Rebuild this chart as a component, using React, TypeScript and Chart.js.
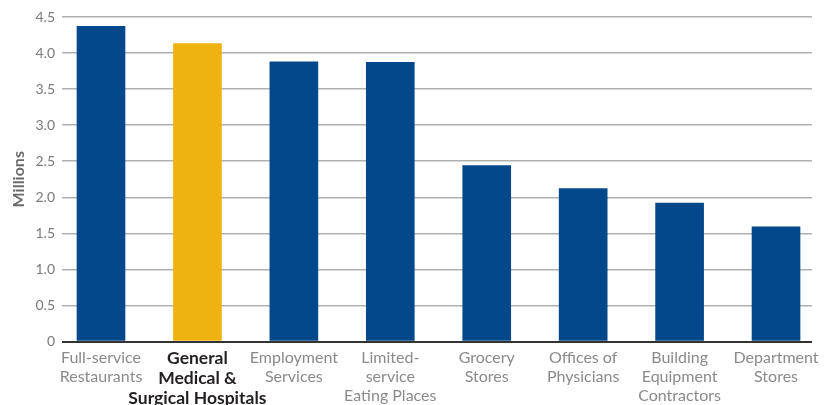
import React, { useEffect, useRef } from "react";
import { Chart, registerables } from "chart.js";

Chart.register(...registerables);

const categories: string[][] = [
  ["Full-service", "Restaurants"],
  ["General", "Medical &", "Surgical Hospitals"],
  ["Employment", "Services"],
  ["Limited-", "service", "Eating Places"],
  ["Grocery", "Stores"],
  ["Offices of", "Physicians"],
  ["Building", "Equipment", "Contractors"],
  ["Department", "Stores"],
];
const values: number[] = [4.37, 4.13, 3.88, 3.87, 2.44, 2.12, 1.92, 1.59];
const highlightIndex = 1;
const yTicks: number[] = [0, 0.5, 1, 1.5, 2, 2.5, 3, 3.5, 4, 4.5];
const yTitle = "Millions";

const BLUE = "#03488a";
const YELLOW = "#eeb310";

export default function App() {
  const ref = useRef<HTMLCanvasElement | null>(null);
  useEffect(() => {
    if (!ref.current) return;
    const chart = new Chart(ref.current, {
      type: "bar",
      data: {
        datasets: [
          {
            data: values.map((v, i) => ({ x: i, y: v })),
            backgroundColor: values.map((_, i) => (i === highlightIndex ? YELLOW : BLUE)),
            barThickness: 48,
          },
        ],
      },
      options: {
        animation: false,
        responsive: false,
        maintainAspectRatio: false,
        layout: { padding: { top: 17, right: 15, left: 0, bottom: 0 } },
        plugins: { legend: { display: false }, tooltip: { enabled: false } },
        scales: {
          x: {
            type: "linear",
            offset: false,
            min: -0.4044,
            max: 7.373,
            grid: { display: false, drawTicks: false },
            border: { display: false },
            afterBuildTicks: (scale: any) => {
              scale.ticks = categories.map((_, i) => ({ value: i }));
            },
            afterFit: (scale: any) => {
              scale.height = 63.5;
            },
            ticks: {
              autoSkip: false,
              maxRotation: 0,
              minRotation: 0,
              padding: 7,
              callback: (v: any) => categories[v as number],
              color: (ctx: any) => (ctx.index === highlightIndex ? "#231f20" : "#8a8a8a"),
              font: (ctx: any) =>
                ctx.index === highlightIndex
                  ? { family: "Lato", size: 17.5, weight: "bold", lineHeight: "20px" }
                  : { family: "Lato", size: 16, weight: "normal", lineHeight: "19px" },
            },
          },
          y: {
            min: 0,
            max: 4.5,
            afterBuildTicks: (scale: any) => {
              scale.ticks = yTicks.map((v) => ({ value: v }));
            },
            afterFit: (scale: any) => {
              scale.width = 62;
            },
            border: { display: false },
            grid: {
              drawTicks: false,
              tickLength: 0,
              color: (ctx: any) => (ctx.tick && ctx.tick.value === 0 ? "#333333" : "#b0b0b0"),
              lineWidth: (ctx: any) => (ctx.tick && ctx.tick.value === 0 ? 2 : 1.5),
            },
            ticks: {
              padding: 7,
              color: "#7a7a7a",
              font: { family: "Lato", size: 14 },
              callback: (v: any) => (v === 0 ? "0" : Number(v).toFixed(1)),
            },
            title: {
              display: true,
              text: yTitle,
              color: "#6a6a6a",
              font: { family: "Lato", size: 16, weight: "bold" },
              padding: { top: 9, bottom: 0 },
            },
          },
        },
      },
    } as any);
    return () => chart.destroy();
  }, []);
  return (
    <div style={{ position: "fixed", left: 0, top: 0, width: 827, height: 405, background: "#fff" }}>
      <canvas ref={ref} width={827} height={405} style={{ width: 827, height: 405 }} />
    </div>
  );
}
